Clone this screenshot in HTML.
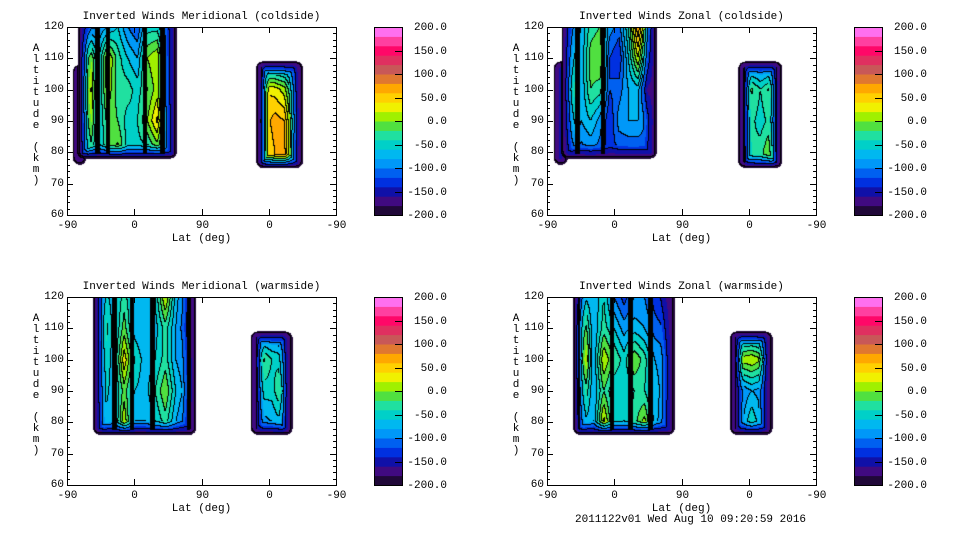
<!DOCTYPE html>
<html><head><meta charset="utf-8">
<style>
html,body{margin:0;padding:0;background:#fff;}
#root{position:relative;width:960px;height:540px;overflow:hidden;background:#fff;font-family:"Liberation Mono","DejaVu Sans Mono",monospace;}
.t{position:absolute;font-size:11px;color:#000;white-space:nowrap;line-height:12px;}
canvas{position:absolute;}
svg{position:absolute;left:0;top:0;}
</style></head>
<body>
<div id="root">
<svg id="axes" width="960" height="540"></svg>
<div class="t" style="left:575px;top:514px;">2011122v01 Wed Aug 10 09:20:59 2016</div>
</div>
<script>
// ---- data ----
const yTicks = [60,70,80,90,100,110,120];
const xTickLabels = ['-90','0','90','0','-90'];
const cbLabels = ['200.0','150.0','100.0','50.0','0.0','-50.0','-100.0','-150.0','-200.0'];
const cbValues = [200,150,100,50,0,-50,-100,-150,-200];
const levelColors = ['#200838','#400a80','#1010a8','#0030e0','#0060f0','#0098f8','#00b8f0','#00d0c8','#20e0a0','#50e040','#a0f000','#f0f000','#ffd000','#ffa800','#e07830','#c85858','#e03060','#ff0868','#ff40a0','#ff70f0'];
const gridAlts = [120,110,100,90,80];
const panelTitles = ['Inverted Winds Meridional (coldside)','Inverted Winds Zonal (coldside)','Inverted Winds Meridional (warmside)','Inverted Winds Zonal (warmside)'];

// top-left
const tlMainGrid = [
 [-110,-110,-100,-80,-60,-100,-120,-50,-50,-100,-120],
 [-50,30,-70,25,-30,-60,-80,0,20,-90,-110],
 [-30,65,-70,15,-30,-30,-50,-20,10,-90,-100],
 [-30,35,-70,-10,-20,-50,-40,0,45,-80,-90],
 [-50,-10,-70,-20,10,-50,-50,-50,-20,-80,-100]];
const tlMainStripes = [17,40,54,104,127];
const tlSideGrid = [[-150,-150],[-150,-150],[-150,-150],[-150,-150],[-150,-150]];
const tlRightGrid = [
 [-200,-120,-120,-120,-120,-200],
 [-200,-120,-120,-120,-120,-200],
 [-200,40,30,10,-60,-200],
 [-200,50,70,60,-40,-200],
 [-200,40,60,70,-50,-200]];
const tlRightStripes = [258,312];
// top-right
const trMainGrid = [
 [-100,-90,-80,-30,-20,-90,-110,-40,80,-40,-100],
 [-80,-40,-80,-10,0,-120,-140,-60,20,-90,-110],
 [-40,0,-80,-20,-30,-120,-110,-80,-70,-160,-130],
 [-80,-40,-80,-60,-90,-140,-90,-80,-80,-100,-120],
 [-110,-100,-110,-100,-110,-130,-120,-120,-120,-120,-130]];
const trMainStripes = [40,74,146];
const trSideGrid = [[-130,-130],[-130,-130],[-130,-130],[-130,-130],[-130,-130]];
const trRightGrid = [
 [-200,-120,-120,-120,-200],
 [-200,-120,-120,-120,-200],
 [-200,-10,-40,-10,-200],
 [-200,-30,-50,-30,-200],
 [-200,-40,-30,10,-200]];
const trRightStripes = [261,309];
// bottom-left
const blMainGrid = [
 [-130,-50,-70,-30,-70,-80,-60,25,-70,-110,-140],
 [-130,-20,-70,-10,-70,-80,-70,-30,-80,-120,-140],
 [-130,-40,-70,35,-40,-70,-60,-30,-80,-100,-140],
 [-130,-50,-70,-10,-60,-70,-40,0,-60,-90,-140],
 [-140,-60,-80,20,-80,-80,-60,-30,-80,-110,-150]];
const blMainStripes = [37,63,86,114,163];
const blRightGrid = [
 [-200,-120,-120,-120,-200],
 [-200,-120,-120,-120,-200],
 [-200,-10,-40,-50,-200],
 [-200,-50,-50,-10,-200],
 [-200,-90,-80,-60,-200]];
const blRightStripes = [250,300];
// bottom-right
const brMainGrid = [
 [-100,-60,-80,-40,-100,-130,-100,-100,-130,-150,-170],
 [-40,10,-80,-30,-60,-90,-70,-80,-110,-120,-150],
 [-40,50,-80,20,-20,-50,0,-30,-80,-90,-130],
 [-60,-10,-80,-20,-60,-60,-40,-40,-70,-90,-130],
 [-90,-60,-80,30,-50,-60,-30,10,-70,-100,-140]];
const brMainStripes = [40,86,111,138,168];
const brRightGrid = [
 [-200,-120,-120,-120,-200],
 [-200,-120,-120,-120,-200],
 [-200,10,20,0,-200],
 [-200,-100,-80,-90,-200],
 [-200,-90,-40,-80,-200]];
const brRightStripes = [249,299];

const panels = [
 {ox:0,oy:0,name:'meridional-coldside',blocks:[
   {p0:8,p1:26,aTop:108,aBot:76,grid:tlSideGrid,stripes:[]},
   {p0:15,p1:147,aTop:125,aBot:78,grid:tlMainGrid,stripes:tlMainStripes},
   {p0:253,p1:316,aTop:109,aBot:75,grid:tlRightGrid,stripes:tlRightStripes}]},
 {ox:480,oy:0,name:'zonal-coldside',blocks:[
   {p0:9,p1:28,aTop:109,aBot:76,grid:trSideGrid,stripes:[]},
   {p0:20,p1:147,aTop:125,aBot:78,grid:trMainGrid,stripes:trMainStripes},
   {p0:256,p1:315,aTop:109,aBot:75,grid:trRightGrid,stripes:trRightStripes}]},
 {ox:0,oy:270,name:'meridional-warmside',blocks:[
   {p0:35,p1:173,aTop:125,aBot:76,grid:blMainGrid,stripes:blMainStripes},
   {p0:246,p1:302,aTop:109,aBot:76,grid:blRightGrid,stripes:blRightStripes}]},
 {ox:480,oy:270,name:'zonal-warmside',blocks:[
   {p0:35,p1:171,aTop:125,aBot:76,grid:brMainGrid,stripes:brMainStripes},
   {p0:245,p1:302,aTop:109,aBot:76,grid:brRightGrid,stripes:brRightStripes}]}
];

// ---- render ----
const root = document.getElementById('root');
const svg = document.getElementById('axes');
const NS = 'http://www.w3.org/2000/svg';
const W = 269, H = 188;
function hexRgb(h){return [parseInt(h.slice(1,3),16),parseInt(h.slice(3,5),16),parseInt(h.slice(5,7),16)];}
const rgbLevels = levelColors.map(hexRgb);
function line(x1,y1,x2,y2){const l=document.createElementNS(NS,'line');l.setAttribute('x1',x1);l.setAttribute('y1',y1);l.setAttribute('x2',x2);l.setAttribute('y2',y2);l.setAttribute('stroke','#000');l.setAttribute('stroke-width','1');svg.appendChild(l);return l;}
function text(str,x,y,align,name){const d=document.createElement('div');d.className='t';d.textContent=str;d.style.top=(y-6)+'px';
 if(align==='r'){d.style.right=(960-x)+'px';}else if(align==='c'){d.style.left=x+'px';d.style.transform='translateX(-50%)';}else{d.style.left=x+'px';}
 
 
 root.appendChild(d);return d;}

function sampleGrid(grid,u,alt){
 const nc=grid[0].length;
 let cx=u*(nc-1); cx=Math.max(0,Math.min(nc-1,cx));
 let ry=(gridAlts[0]-alt)/(gridAlts[0]-gridAlts[gridAlts.length-1])*(gridAlts.length-1);
 ry=Math.max(0,Math.min(gridAlts.length-1,ry));
 const c0=Math.floor(cx),c1=Math.min(nc-1,c0+1),r0=Math.floor(ry),r1=Math.min(gridAlts.length-1,r0+1);
 const fx=cx-c0,fy=ry-r0;
 const a=grid[r0][c0]*(1-fx)+grid[r0][c1]*fx;
 const b=grid[r1][c0]*(1-fx)+grid[r1][c1]*fx;
 return a*(1-fy)+b*fy;
}

panels.forEach((pn,pi)=>{
 const x0=67+pn.ox, y0=27+pn.oy;
 const xs=p=>p*W/360;
 const ys=a=>(120-a)*H/60;
 const cv=document.createElement('canvas');
 cv.width=W;cv.height=H;cv.style.left=x0+'px';cv.style.top=y0+'px';
 
 
 root.insertBefore(cv,svg);
 const ctx=cv.getContext('2d');
 const img=ctx.createImageData(W,H);
 const lvl=new Int16Array(W*H).fill(-1);
 const blk=new Uint8Array(W*H);
 const rim=new Uint8Array(W*H);
 const R=7;
 pn.blocks.forEach(b=>{
  const X0=xs(b.p0),X1=xs(b.p1),Y0=ys(b.aTop),Y1=ys(b.aBot);
  const sx=b.stripes.map(xs);
  for(let y=Math.max(0,Math.floor(Y0));y<Math.min(H,Math.ceil(Y1));y++){
   for(let x=Math.max(0,Math.floor(X0));x<Math.min(W,Math.ceil(X1));x++){
    const u=(x-X0)/(X1-X0);
    const alt=120-(y+0.5)*60/H;
    let v=sampleGrid(b.grid,u,alt);
    const dx=Math.min(x+0.5-X0,X1-x-0.5);
    const dy=(b.aTop<120)?Math.min(y+0.5-Y0,Y1-y-0.5):(Y1-y-0.5);
    let d;
    if(dx<R&&dy<R) d=R-Math.hypot(R-dx,R-dy); else d=Math.min(dx,dy);
    if(d<0) continue;
    if(d<1.5) v=-195;
    else { const f=Math.min(1,(d-1.5)/12); v=-175+(v+175)*f; }
    let idx=Math.floor((v+200)/20); idx=Math.max(0,Math.min(19,idx));
    const k=y*W+x;
    lvl[k]=idx;
    rim[k]=d<14?1:0;
    for(const s of sx){ if(Math.abs(x-s)<2.2 && d>5) blk[k]=1; }
   }
  }
 });
 for(let y=0;y<H;y++)for(let x=0;x<W;x++){
  const k=y*W+x, l=lvl[k];
  let r=255,g=255,bb=255;
  if(l>=0){
   [r,g,bb]=rgbLevels[l];
   const rt=x+1<W?lvl[k+1]:-1, dn=y+1<H?lvl[k+W]:-1;
   let edge=(rt>=0&&rt!==l&&(!rim[k]||Math.min(rt,l)%2===0))||(dn>=0&&dn!==l&&(!rim[k]||Math.min(dn,l)%2===0));
   if(edge||blk[k]){r=0;g=0;bb=0;}
  }
  img.data[k*4]=r;img.data[k*4+1]=g;img.data[k*4+2]=bb;img.data[k*4+3]=255;
 }
 ctx.putImageData(img,0,0);

 const fr=document.createElementNS(NS,'rect');
 fr.setAttribute('x',x0+0.5);fr.setAttribute('y',y0+0.5);fr.setAttribute('width',W);fr.setAttribute('height',H);
 fr.setAttribute('fill','none');fr.setAttribute('stroke','#000');
 
 
 svg.appendChild(fr);
 for(let a=60;a<=120;a+=2){
  const yy=Math.round(y0+ys(a))+0.5; const len=(a%10===0)?6:3;
  line(x0,yy,x0+len,yy); line(x0+W,yy,x0+W-len,yy);
 }
 yTicks.forEach(a=>{text(String(a),x0-3,y0+ys(a),'r','y-tick-label');});
 xTickLabels.forEach((lab,i)=>{
  const xx=Math.round(x0+xs(i*90))+0.5;
  line(xx,y0+H,xx,y0+H-6); line(xx,y0,xx,y0+6);
  text(lab,xx,y0+H+11,'c','x-tick-label');
 });
 text('Lat (deg)',x0+W/2,y0+H+24,'c','x-axis-title');
 text(panelTitles[pi],x0+W/2,y0-10,'c','panel-title');
 const yt=document.createElement('div');
 yt.className='t';yt.style.left=(x0-36)+'px';yt.style.top=(y0+17)+'px';yt.style.width='10px';yt.style.textAlign='center';
 yt.style.lineHeight='11px';yt.style.whiteSpace='normal';
 yt.innerHTML='Altitude (km)'.split('').map(c=>c===' '?'&nbsp;':c).join('<br>');
 
 
 root.appendChild(yt);
 const cbx=374+pn.ox, cby=27+pn.oy, cbw=28;
 levelColors.forEach((c,i)=>{
  const r=document.createElementNS(NS,'rect');
  const yTop=cby+H-(i+1)*H/20;
  r.setAttribute('x',cbx);r.setAttribute('y',yTop);r.setAttribute('width',cbw);r.setAttribute('height',H/20+0.5);
  r.setAttribute('fill',c);
  
  
  svg.appendChild(r);
 });
 const cf=document.createElementNS(NS,'rect');
 cf.setAttribute('x',cbx+0.5);cf.setAttribute('y',cby+0.5);cf.setAttribute('width',cbw);cf.setAttribute('height',H);
 cf.setAttribute('fill','none');cf.setAttribute('stroke','#000');
 
 
 svg.appendChild(cf);
 cbValues.forEach((v,i)=>{
  const yy=Math.round(cby+(200-v)*H/400)+0.5;
  line(cbx+cbw-7,yy,cbx+cbw,yy);
  text(cbLabels[i],cbx+cbw+45,yy,'r','colorbar-label');
 });
});
</script>
</body></html>
